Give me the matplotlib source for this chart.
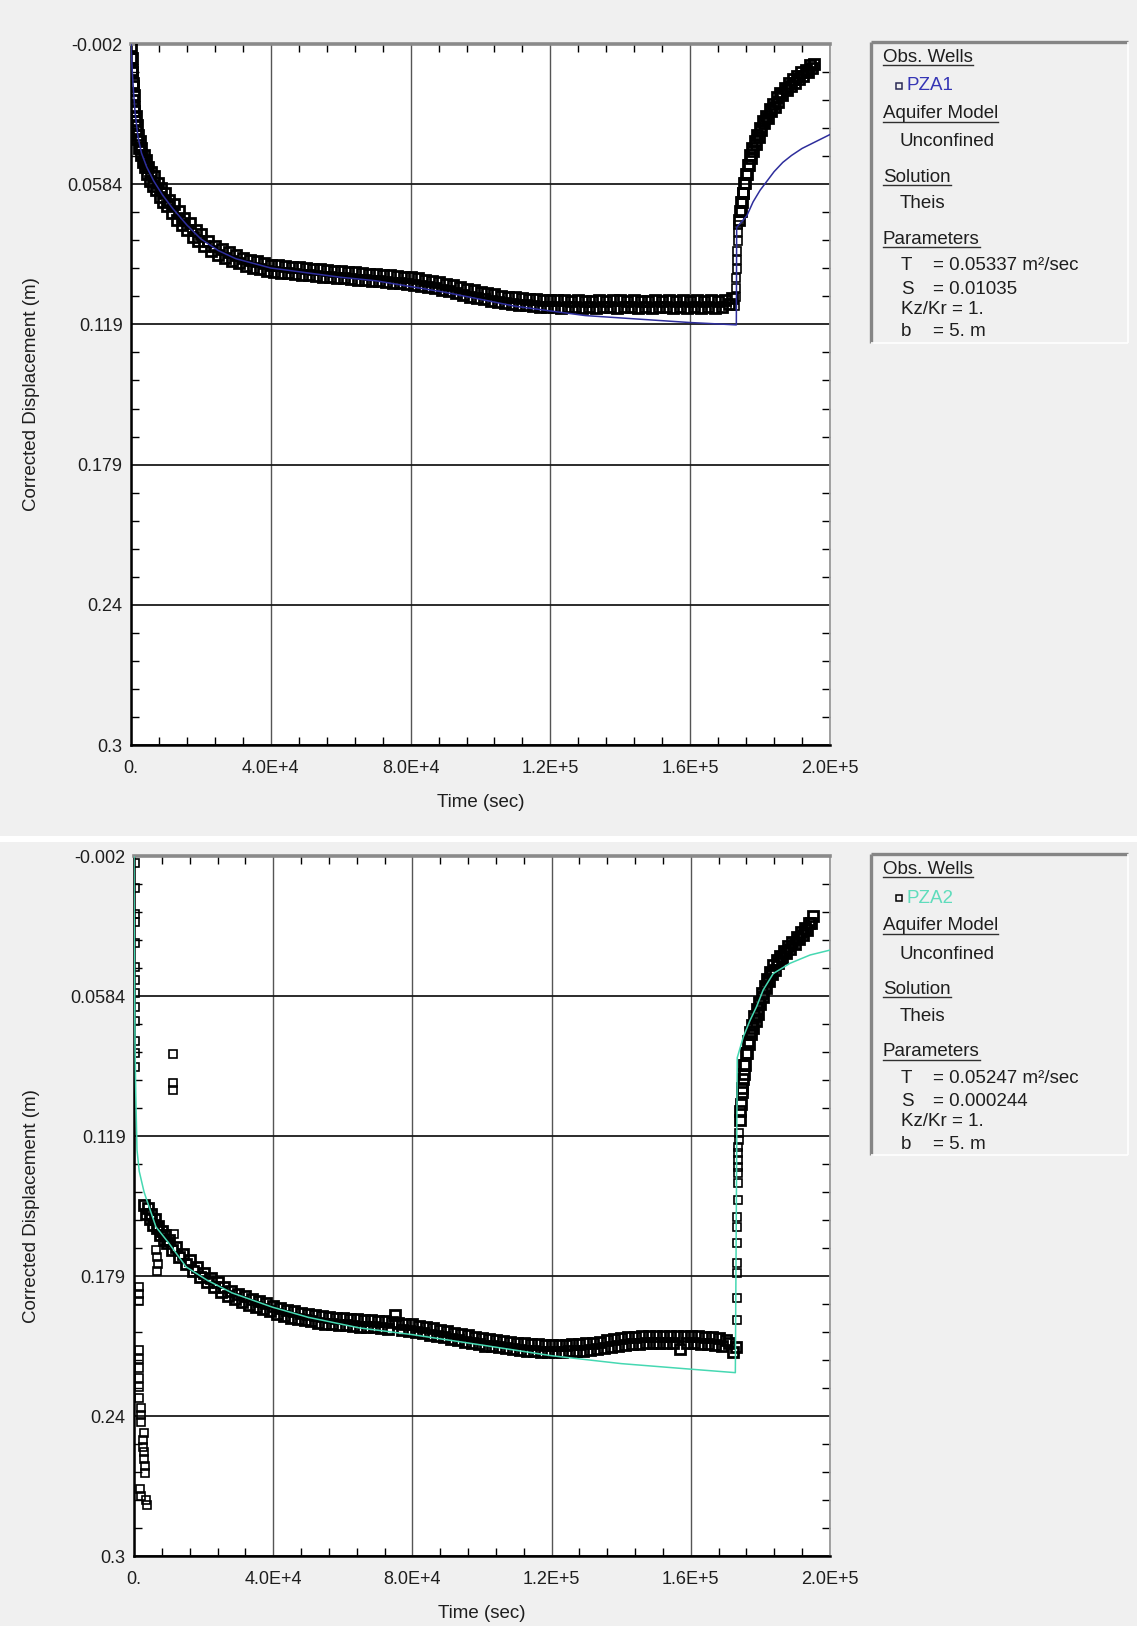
import matplotlib
matplotlib.use("Agg")
import matplotlib.pyplot as plt
from matplotlib.lines import Line2D
from matplotlib.patches import Rectangle
from matplotlib.ticker import FixedLocator, AutoMinorLocator

plt.rcParams['font.family'] = ['Liberation Sans', 'DejaVu Sans']

W_PX, H_PX = 1137, 1626

# Ejes (comunes a los dos paneles)
y_ticks = [-0.002, 0.0584, 0.1188, 0.1792, 0.2396, 0.3]
y_ticklabels = ['-0.002', '0.0584', '0.119', '0.179', '0.24', '0.3']
x_ticks = [0, 40000, 80000, 120000, 160000, 200000]
x_ticklabels = ['0.', '4.0E+4', '8.0E+4', '1.2E+5', '1.6E+5', '2.0E+5']

# ---------------- PZA1 (panel superior) ----------------
t_pza1_early = [0, 100, 200, 300, 400, 500, 600, 700, 800, 900,
                1000, 1150, 1300, 1450, 1600, 1800, 2000, 2250, 2500, 2750,
                3000, 3300, 3600, 3900, 4200, 4600, 5000, 5400, 5800, 6200,
                6700, 7200, 7700, 8200, 8700, 9200, 9800, 10400, 11000, 11700,
                12400, 13100, 13800, 14500, 15300, 16100, 16900, 17700, 18500, 19300,
                20100]
s_pza1_early = [-0.001, 0.004, 0.004, 0.010, 0.009, 0.016, 0.015, 0.022, 0.020, 0.027,
                0.025, 0.031, 0.029, 0.035, 0.033, 0.039, 0.037, 0.043, 0.040, 0.046,
                0.043, 0.049, 0.046, 0.051, 0.048, 0.054, 0.051, 0.057, 0.053, 0.059,
                0.055, 0.061, 0.058, 0.064, 0.060, 0.066, 0.062, 0.068, 0.065, 0.071,
                0.067, 0.074, 0.070, 0.076, 0.073, 0.078, 0.075, 0.081, 0.078, 0.083,
                0.080]

t_pza1_mid = [21000, 22000, 23000, 24000, 25000, 26000, 27000, 28000, 29000, 30000,
              31000, 32000, 33000, 34000, 35000, 36000, 37000, 38000, 39000, 40000,
              41000, 42000, 43000, 44000, 45000, 46000, 47000, 48000, 49000, 50000,
              51000, 52000, 53000, 54000, 55000, 56000, 57000, 58000, 59000, 60000,
              61000, 62000, 63000, 64000, 65000, 66000, 67000, 68000, 69000, 70000,
              71000, 72000, 73000, 74000, 75000, 76000, 77000, 78000, 79000, 80000,
              81000, 82000, 83000, 84000, 85000, 86000, 87000, 88000, 89000, 90000,
              91000, 92000, 93000, 94000, 95000, 96000, 97000, 98000, 99000, 100000,
              101000, 102000, 103000, 104000, 105000, 106000, 107000, 108000, 109000, 110000,
              111000, 112000, 113000, 114000, 115000, 116000, 117000, 118000, 119000, 120000,
              121000, 122000, 123000, 124000, 125000, 126000, 127000, 128000, 129000, 130000,
              131000, 132000, 133000, 134000, 135000, 136000, 137000, 138000, 139000, 140000,
              141000, 142000, 143000, 144000, 145000, 146000, 147000, 148000, 149000, 150000,
              151000, 152000, 153000, 154000, 155000, 156000, 157000, 158000, 159000, 160000,
              161000, 162000, 163000, 164000, 165000, 166000, 167000, 168000, 169000, 170000,
              171000, 172000]
s_pza1_mid = [0.0850, 0.0830, 0.0870, 0.0850, 0.0888, 0.0865, 0.0902, 0.0878, 0.0914, 0.0890,
              0.0925, 0.0900, 0.0935, 0.0909, 0.0943, 0.0917, 0.0951, 0.0925, 0.0958, 0.0931,
              0.0963, 0.0934, 0.0966, 0.0937, 0.0968, 0.0940, 0.0971, 0.0942, 0.0974, 0.0945,
              0.0976, 0.0948, 0.0979, 0.0950, 0.0982, 0.0953, 0.0985, 0.0956, 0.0987, 0.0959,
              0.0990, 0.0961, 0.0993, 0.0964, 0.0996, 0.0967, 0.0998, 0.0970, 0.1001, 0.0972,
              0.1003, 0.0975, 0.1006, 0.0977, 0.1008, 0.0980, 0.1011, 0.0982, 0.1013, 0.0985,
              0.1018, 0.0990, 0.1023, 0.0995, 0.1028, 0.1000, 0.1033, 0.1005, 0.1039, 0.1013,
              0.1046, 0.1020, 0.1054, 0.1028, 0.1061, 0.1035, 0.1068, 0.1041, 0.1074, 0.1047,
              0.1080, 0.1053, 0.1086, 0.1059, 0.1092, 0.1065, 0.1097, 0.1068, 0.1100, 0.1071,
              0.1103, 0.1074, 0.1105, 0.1077, 0.1108, 0.1080, 0.1111, 0.1082, 0.1114, 0.1085,
              0.1115, 0.1085, 0.1118, 0.1084, 0.1115, 0.1087, 0.1113, 0.1085, 0.1117, 0.1086,
              0.1114, 0.1086, 0.1116, 0.1083, 0.1115, 0.1088, 0.1113, 0.1085, 0.1116, 0.1084,
              0.1115, 0.1087, 0.1114, 0.1085, 0.1117, 0.1086, 0.1113, 0.1088, 0.1116, 0.1084,
              0.1115, 0.1086, 0.1114, 0.1085, 0.1117, 0.1087, 0.1113, 0.1085, 0.1116, 0.1086,
              0.1114, 0.1085, 0.1116, 0.1087, 0.1113, 0.1084, 0.1117, 0.1086, 0.1115, 0.1085,
              0.1100, 0.1075]

# salto al parar el bombeo (marcas sueltas)
t_pza1_jump = [172800, 173000, 173100, 173200, 173300, 173400, 173500, 173600, 173700, 173800]
s_pza1_jump = [0.111, 0.107, 0.103, 0.099, 0.095, 0.091, 0.087, 0.083, 0.079, 0.076]

t_pza1_rec = [174000, 174200, 174400, 174600, 174800, 175000, 175200, 175400, 175600, 175900,
              176200, 176500, 176800, 177100, 177400, 177700, 178000, 178400, 178800, 179200,
              179600, 180000, 180400, 180800, 181200, 181700, 182200, 182700, 183200, 183700,
              184200, 184700, 185200, 185800, 186400, 187000, 187600, 188200, 188800, 189400,
              190000, 190600, 191200, 191800, 192400, 193000, 193600, 194200, 194800, 195400]
s_pza1_rec = [0.074, 0.070, 0.070, 0.066, 0.066, 0.062, 0.062, 0.058, 0.058, 0.054,
              0.054, 0.050, 0.050, 0.046, 0.047, 0.043, 0.044, 0.040, 0.041, 0.037,
              0.038, 0.034, 0.035, 0.031, 0.032, 0.029, 0.030, 0.026, 0.027, 0.024,
              0.025, 0.021, 0.023, 0.019, 0.020, 0.017, 0.018, 0.015, 0.016, 0.013,
              0.015, 0.012, 0.013, 0.010, 0.012, 0.009, 0.010, 0.007, 0.0085, 0.0065]

# Ajuste de Theis PZA1
t_theis1 = [0, 300, 700, 1200, 2000, 3000, 4500, 6500, 9000, 12000, 16000, 20000, 25000,
            30000, 40000, 50000, 60000, 70000, 80000, 90000, 100000, 110000, 120000, 130000,
            140000, 150000, 160000, 173200, 173300, 176200, 178000, 180000, 182000, 184000,
            186500, 189000, 192000, 196000, 200000]
s_theis1 = [-0.002, 0.008, 0.018, 0.028, 0.038, 0.045, 0.051, 0.057, 0.063, 0.069, 0.076,
            0.082, 0.087, 0.0905, 0.0945, 0.0965, 0.0985, 0.100, 0.1025, 0.105, 0.108, 0.111,
            0.113, 0.115, 0.116, 0.117, 0.118, 0.119, 0.077, 0.072, 0.066, 0.061, 0.057,
            0.053, 0.049, 0.046, 0.043, 0.040, 0.037]

# ---------------- PZA2 (panel inferior) ----------------
t_pza2_early = [200, 200, 200, 200, 200, 200, 200, 200, 200, 200, 200, 200, 200,
                1400, 1400, 1400, 1300, 1300, 1300, 1500, 1500, 1300, 2000, 2100, 2100,
                2800, 2500, 2700, 3000, 2900, 3100, 3300, 1800, 2000, 3500, 3600,
                6400, 6600, 6800, 6500, 11200, 11200, 11200, 11500]
s_pza2_early = [0.001, 0.012, 0.023, 0.0265, 0.0355, 0.046, 0.0515, 0.057, 0.063, 0.069,
                0.078, 0.083, 0.089,
                0.184, 0.187, 0.190, 0.211, 0.215, 0.219, 0.223, 0.227, 0.232, 0.236, 0.239,
                0.242, 0.247, 0.250, 0.253, 0.255, 0.258, 0.261, 0.264, 0.271, 0.274, 0.276,
                0.278,
                0.168, 0.171, 0.174, 0.177, 0.0836, 0.0961, 0.099, 0.161]

t_pza2_mid = [3000, 3500, 4000, 4500, 5000, 5500, 6000, 6500, 7000, 7500,
              8000, 8500, 9000, 9500, 10000,
              11000, 12000, 13000, 14000, 15000, 16000, 17000, 18000, 19000, 20000,
              21000, 22000, 23000, 24000, 25000, 26000, 27000, 28000, 29000, 30000,
              31000, 32000, 33000, 34000, 35000, 36000, 37000, 38000, 39000, 40000,
              41000, 42000, 43000, 44000, 45000, 46000, 47000, 48000, 49000, 50000,
              51000, 52000, 53000, 54000, 55000, 56000, 57000, 58000, 59000, 60000,
              61000, 62000, 63000, 64000, 65000, 66000, 67000, 68000, 69000, 70000,
              71000, 72000, 73000, 74000, 75000, 76000, 77000, 78000, 79000, 80000,
              81000, 82000, 83000, 84000, 85000, 86000, 87000, 88000, 89000, 90000,
              91000, 92000, 93000, 94000, 95000, 96000, 97000, 98000, 99000, 100000,
              101000, 102000, 103000, 104000, 105000, 106000, 107000, 108000, 109000, 110000,
              111000, 112000, 113000, 114000, 115000, 116000, 117000, 118000, 119000, 120000,
              121000, 122000, 123000, 124000, 125000, 126000, 127000, 128000, 129000, 130000,
              131000, 132000, 133000, 134000, 135000, 136000, 137000, 138000, 139000, 140000,
              141000, 142000, 143000, 144000, 145000, 146000, 147000, 148000, 149000, 150000,
              151000, 152000, 153000, 154000, 155000, 156000, 157000, 158000, 159000, 160000,
              161000, 162000, 163000, 164000, 165000, 166000, 167000, 168000, 169000, 170000,
              171000, 172000, 173000]
s_pza2_mid = [0.1485, 0.1525, 0.1500, 0.1545, 0.1525, 0.1570, 0.1545, 0.1585, 0.1575, 0.1615,
              0.1600, 0.1635, 0.1615, 0.1650, 0.1635,
              0.1680, 0.1665, 0.1710, 0.1695, 0.1740, 0.1725, 0.1770, 0.1755, 0.1797, 0.1780,
              0.1820, 0.1800, 0.1840, 0.1820, 0.1860, 0.1840, 0.1878, 0.1857, 0.1893, 0.1870,
              0.1905, 0.1880, 0.1915, 0.1890, 0.1925, 0.1900, 0.1935, 0.1910, 0.1945, 0.1920,
              0.1955, 0.1930, 0.1965, 0.1938, 0.1972, 0.1945, 0.1978, 0.1951, 0.1983, 0.1955,
              0.1987, 0.1960, 0.1993, 0.1965, 0.1997, 0.1969, 0.2001, 0.1973, 0.2004, 0.1975,
              0.2005, 0.1977, 0.2008, 0.1979, 0.2010, 0.1981, 0.2012, 0.1983, 0.2014, 0.1985,
              0.2017, 0.1988, 0.2020, 0.1991, 0.1960, 0.1994, 0.2026, 0.1997, 0.2029, 0.2000,
              0.2033, 0.2006, 0.2039, 0.2012, 0.2045, 0.2018, 0.2051, 0.2024, 0.2057, 0.2030,
              0.2063, 0.2036, 0.2069, 0.2042, 0.2075, 0.2048, 0.2081, 0.2054, 0.2087, 0.2060,
              0.2092, 0.2064, 0.2096, 0.2068, 0.2100, 0.2072, 0.2104, 0.2076, 0.2108, 0.2080,
              0.2112, 0.2083, 0.2114, 0.2085, 0.2116, 0.2087, 0.2118, 0.2089, 0.2119, 0.2090,
              0.2120, 0.2089, 0.2119, 0.2088, 0.2117, 0.2086, 0.2115, 0.2084, 0.2114, 0.2083,
              0.2111, 0.2079, 0.2107, 0.2075, 0.2103, 0.2070, 0.2098, 0.2065, 0.2093, 0.2060,
              0.2088, 0.2057, 0.2086, 0.2055, 0.2084, 0.2053, 0.2082, 0.2052, 0.2081, 0.2051,
              0.2081, 0.2051, 0.2080, 0.2052, 0.2081, 0.2051, 0.2105, 0.2052, 0.2081, 0.2051,
              0.2082, 0.2053, 0.2084, 0.2055, 0.2086, 0.2057, 0.2089, 0.2061, 0.2095, 0.2070,
              0.2080, 0.2120, 0.2100]

# salto al parar el bombeo (marcas sueltas)
t_pza2_jump = [173300, 173300, 173300, 173300, 173400, 173400, 173400, 173500, 173500, 173600,
               173600, 173600, 173700, 173700, 173800, 173800]
s_pza2_jump = [0.198, 0.1888, 0.178, 0.1738, 0.1651, 0.158, 0.1536, 0.1464, 0.1392, 0.1349,
               0.132, 0.1292, 0.1263, 0.1234, 0.1205, 0.1177]

t_pza2_rec = [174000, 174200, 174400, 174600, 174800, 175000, 175200, 175400, 175600, 175900,
              176200, 176500, 176800, 177100, 177400, 177700, 178000, 178300, 178600, 178900,
              179200, 179600, 180000, 180400, 180800, 181200, 181600, 182000, 182400, 182800,
              183200, 183700, 184200, 184700, 185200, 185700, 186200, 186800, 187400, 188000,
              188600, 189200, 189800, 190400, 191000, 191600, 192200, 192800, 193400, 194000,
              194600, 195100]
s_pza2_rec = [0.112, 0.108, 0.105, 0.100, 0.098, 0.094, 0.092, 0.088, 0.088, 0.083,
              0.083, 0.078, 0.079, 0.074, 0.075, 0.071, 0.072, 0.067, 0.069, 0.064,
              0.066, 0.061, 0.062, 0.057, 0.059, 0.054, 0.055, 0.051, 0.052, 0.048,
              0.049, 0.045, 0.047, 0.043, 0.044, 0.041, 0.042, 0.039, 0.040, 0.037,
              0.038, 0.035, 0.036, 0.033, 0.034, 0.031, 0.032, 0.029, 0.030, 0.027,
              0.027, 0.024]

# Ajuste de Theis PZA2
t_theis2 = [0, 50, 150, 300, 500, 860, 1500, 2900, 6300, 10000, 15000, 21000, 28200, 39700,
            50000, 64800, 80000, 100000, 120000, 140000, 160000, 172800, 173350, 175100,
            177000, 178900, 180800, 183700, 188500, 194300, 200000]
s_theis2 = [-0.002, 0.02, 0.05, 0.08, 0.10, 0.1248, 0.134, 0.143, 0.158, 0.165, 0.1753, 0.181,
            0.1865, 0.1926, 0.197, 0.2016, 0.2045, 0.209, 0.2136, 0.217, 0.2194, 0.2209, 0.085,
            0.076, 0.069, 0.063, 0.0558, 0.0487, 0.0443, 0.0407, 0.0386]

# Textos de la leyenda
param_t = ['= 0.05337 m\u00b2/sec', '= 0.05247 m\u00b2/sec']
param_s = ['= 0.01035', '= 0.000244']

BG = '#f0f0f0'
TXT = '#1e1e1e'
BLUE = '#2e2e9c'
TEAL = '#46d8b2'

# marcas: nube densa (grande, borde grueso) y marcas sueltas (borde fino)
DENSA = (6.8, 2.0)
SUELTA = (5.6, 1.2)


def fx(x):
    return x / W_PX


def fy(y):
    return 1 - y / H_PX


def linea_fig(fig, x0, y0, x1, y1, color, lw):
    fig.add_artist(Line2D([fx(x0), fx(x1)], [fy(y0), fy(y1)], transform=fig.transFigure,
                          color=color, lw=lw, solid_capstyle='butt'))


def dibujar_panel(fig, rect_px, grupos_obs, t_fit, s_fit, color_fit):
    left, top, right, bottom = rect_px
    ax = fig.add_axes([fx(left), fy(bottom), (right - left) / W_PX, (bottom - top) / H_PX])
    ax.set_facecolor('white')

    # cada grupo: (tiempos, descensos, estilo de la marca)
    for t_obs, s_obs, (tam, grosor) in grupos_obs:
        ax.plot(t_obs, s_obs, ls='none', marker='s', ms=tam, mfc='none', mec='black',
                mew=grosor, zorder=3)
    ax.plot(t_fit, s_fit, color=color_fit, lw=1.1, zorder=4)

    ax.set_xlim(0, 200000)
    ax.set_ylim(0.3, -0.002)
    ax.xaxis.set_major_locator(FixedLocator(x_ticks))
    ax.yaxis.set_major_locator(FixedLocator(y_ticks))
    ax.set_xticklabels(x_ticklabels)
    ax.set_yticklabels(y_ticklabels)
    ax.xaxis.set_minor_locator(AutoMinorLocator(5))
    ax.yaxis.set_minor_locator(AutoMinorLocator(5))

    ax.tick_params(which='major', length=0, labelsize=13, labelcolor=TXT)
    ax.tick_params(axis='x', which='major', pad=11)
    ax.tick_params(axis='y', which='major', pad=6)
    ax.tick_params(which='minor', direction='in', length=6, width=1.0, color='black',
                   top=True, right=True)

    ax.yaxis.grid(True, color='#1a1a1a', lw=1.3)
    ax.xaxis.grid(True, color='#555555', lw=1.0)
    ax.set_axisbelow(True)

    ax.spines['top'].set_color('#8a8a8a')
    ax.spines['top'].set_linewidth(2.6)
    ax.spines['left'].set_color('black')
    ax.spines['left'].set_linewidth(1.8)
    ax.spines['bottom'].set_color('black')
    ax.spines['bottom'].set_linewidth(1.8)
    ax.spines['right'].set_color('#9a9a9a')
    ax.spines['right'].set_linewidth(1.3)

    # etiquetas de ejes
    fig.text(fx((left + right) / 2), fy(bottom + 57), 'Time (sec)', ha='center', va='center',
             fontsize=13.5, color=TXT)
    fig.text(fx(32), fy((top + bottom) / 2), 'Corrected Displacement (m)', rotation=90,
             ha='center', va='center', fontsize=13.5, color=TXT)
    return ax


def dibujar_leyenda(fig, y_top, pozo, color_pozo, color_marca, t_txt, s_txt):
    x0, x1 = 871, 1128
    y0, y1 = y_top, y_top + 301
    fig.add_artist(Rectangle((fx(x0), fy(y1)), (x1 - x0) / W_PX, (y1 - y0) / H_PX,
                             transform=fig.transFigure, facecolor=BG, edgecolor='none'))
    linea_fig(fig, x0, y0, x1, y0, '#858585', 2.4)
    linea_fig(fig, x0, y0, x0, y1, '#858585', 2.4)
    linea_fig(fig, x1, y0, x1, y1, 'white', 1.2)
    linea_fig(fig, x0, y1, x1, y1, 'white', 1.2)

    fs = 13.5
    titulos = []
    for texto, dy in [('Obs. Wells', 15), ('Aquifer Model', 72), ('Solution', 135),
                      ('Parameters', 197)]:
        titulos.append(fig.text(fx(883), fy(y0 + dy), texto, fontsize=fs, color=TXT,
                                va='center', ha='left'))

    fig.add_artist(Line2D([fx(899)], [fy(y0 + 44)], transform=fig.transFigure, marker='s',
                          ms=5, mfc='none', mec=color_marca, mew=1.1, ls='none'))
    fig.text(fx(907), fy(y0 + 44), pozo, fontsize=fs, color=color_pozo, va='center')
    fig.text(fx(900), fy(y0 + 100), 'Unconfined', fontsize=fs, color=TXT, va='center')
    fig.text(fx(900), fy(y0 + 162), 'Theis', fontsize=fs, color=TXT, va='center')

    filas = [('T', t_txt, 224), ('S', s_txt, 247), ('b', '= 5. m', 290)]
    for nombre, valor, dy in filas:
        fig.text(fx(901), fy(y0 + dy), nombre, fontsize=fs, color=TXT, va='center')
        fig.text(fx(933), fy(y0 + dy), valor, fontsize=fs, color=TXT, va='center')
    fig.text(fx(901), fy(y0 + 267), 'Kz/Kr = 1.', fontsize=fs, color=TXT, va='center')
    return titulos


fig = plt.figure(figsize=(W_PX / 100, H_PX / 100), dpi=100, facecolor=BG)

# franja blanca entre los dos paneles
fig.add_artist(Rectangle((0, fy(842)), 1, 6 / H_PX, transform=fig.transFigure,
                         facecolor='white', edgecolor='none'))

dibujar_panel(fig, (131, 44, 830, 745),
              [(t_pza1_early, s_pza1_early, DENSA),
               (t_pza1_mid, s_pza1_mid, DENSA),
               (t_pza1_jump, s_pza1_jump, SUELTA),
               (t_pza1_rec, s_pza1_rec, DENSA)],
              t_theis1, s_theis1, BLUE)
dibujar_panel(fig, (134, 856, 830, 1556),
              [(t_pza2_early, s_pza2_early, SUELTA),
               (t_pza2_mid, s_pza2_mid, DENSA),
               (t_pza2_jump, s_pza2_jump, SUELTA),
               (t_pza2_rec, s_pza2_rec, DENSA)],
              t_theis2, s_theis2, TEAL)

titulos = dibujar_leyenda(fig, 42, 'PZA1', '#3535b5', '#2a2a55', param_t[0], param_s[0])
titulos += dibujar_leyenda(fig, 854, 'PZA2', '#5fdcbc', 'black', param_t[1], param_s[1])

# subrayado de los titulos de la leyenda
fig.canvas.draw()
renderer = fig.canvas.get_renderer()
for t in titulos:
    bb = t.get_window_extent(renderer=renderer).transformed(fig.transFigure.inverted())
    fig.add_artist(Line2D([bb.x0, bb.x1], [bb.y0, bb.y0], transform=fig.transFigure,
                          color='#303030', lw=1.0))

fig.savefig('out.png', dpi=100, facecolor=fig.get_facecolor())
